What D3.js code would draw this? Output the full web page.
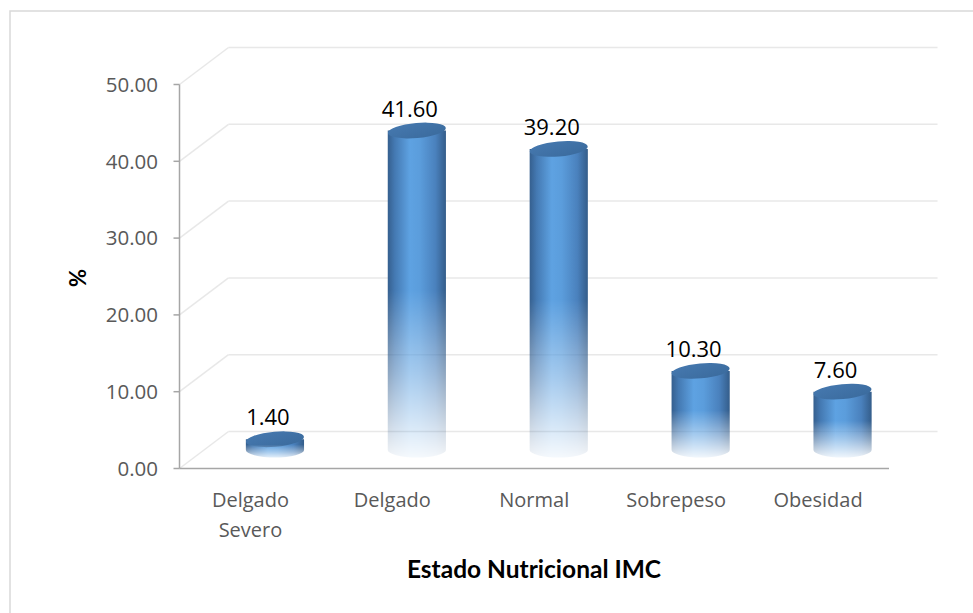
<!DOCTYPE html>
<html>
<head>
<meta charset="utf-8">
<script src="https://cdn.jsdelivr.net/npm/d3@7"></script>
<style>
  html, body { margin: 0; padding: 0; background: #fff; }
  svg { display: block; }
</style>
</head>
<body>
<script>
// ---- data ----
const categories = [["Delgado", "Severo"], ["Delgado"], ["Normal"], ["Sobrepeso"], ["Obesidad"]];
const values = [1.40, 41.60, 39.20, 10.30, 7.60];
const yTicks = [0, 10, 20, 30, 40, 50];
const xTitle = "Estado Nutricional IMC";
const yTitle = "%";

const W = 973, H = 613;
const svg = d3.select("body").append("svg").attr("width", W).attr("height", H);

// frame (only top & left visible)
svg.append("path").attr("d", `M10,613 L10,11 L973,11`)
  .attr("fill", "none").attr("stroke", "#d9d9d9").attr("stroke-width", 1.5);

// geometry
const front = { x0: 179.5, x1: 889, y0: 468.5, y1: 84.5 };
const depth = { dx: 49, dy: -37 };

const x = d3.scaleBand().domain(d3.range(categories.length)).range([front.x0, front.x1]).padding(0);
const y = d3.scaleLinear().domain([0, 50]).range([front.y0, front.y1]);

const defs = svg.append("defs");
// cylinder side gradient
const side = defs.append("linearGradient").attr("id", "side").attr("x1", 0).attr("x2", 1).attr("y1", 0).attr("y2", 0);
[[0, "#355f8e"], [0.12, "#4479b2"], [0.38, "#5ea2e2"], [0.55, "#5b9ddc"], [0.82, "#4a81bd"], [1, "#345d8a"]]
  .forEach(([o, c]) => side.append("stop").attr("offset", o).attr("stop-color", c));
const topG = defs.append("linearGradient").attr("id", "topg").attr("x1", 0).attr("x2", 1).attr("y1", 0).attr("y2", 1);
[[0, "#4679b0"], [1, "#3a6a9c"]].forEach(([o, c]) => topG.append("stop").attr("offset", o).attr("stop-color", c));
// fade mask gradient
const fade = defs.append("linearGradient").attr("id", "fade").attr("x1", 0).attr("x2", 0).attr("y1", 0).attr("y2", 1);
[[0, 1], [0.5, 1], [0.75, 0.55], [1, 0.05]].forEach(([o, a]) =>
  fade.append("stop").attr("offset", o).attr("stop-color", "#fff").attr("stop-opacity", a));

// back wall gridlines
const grid = svg.append("g");
yTicks.forEach(t => {
  const fy = y(t), by = y(t) + depth.dy;
  grid.append("line").attr("x1", front.x0 + depth.dx).attr("x2", 937.5).attr("y1", by).attr("y2", by)
    .attr("stroke", "#e8e8e8").attr("stroke-width", 1.5);
  grid.append("line").attr("x1", front.x0).attr("y1", fy).attr("x2", front.x0 + depth.dx).attr("y2", by)
    .attr("stroke", "#e8e8e8").attr("stroke-width", 1.5);
});

// axes
const axisColor = "#a6a6a6";
svg.append("line").attr("x1", front.x0).attr("x2", front.x0).attr("y1", y(50)).attr("y2", y(0))
  .attr("stroke", axisColor).attr("stroke-width", 1.5);
svg.append("line").attr("x1", front.x0).attr("x2", front.x1).attr("y1", y(0)).attr("y2", y(0))
  .attr("stroke", axisColor).attr("stroke-width", 1.5);
yTicks.forEach(t => {
  svg.append("line").attr("x1", front.x0 - 6).attr("x2", front.x0).attr("y1", y(t)).attr("y2", y(t))
    .attr("stroke", axisColor).attr("stroke-width", 1.5);
  svg.append("text").attr("x", 158).attr("y", y(t)).attr("dy", "0.36em").attr("text-anchor", "end")
    .attr("font-family", "Open Sans").attr("font-size", 20.5).attr("fill", "#595959")
    .text(d3.format(".2f")(t));
});

// cylinders
const bars = svg.append("g");
const rx = x.bandwidth() * 0.205, ry = 7.5;
values.forEach((v, i) => {
  const cx = x(i) + x.bandwidth() / 2 + depth.dx / 2;
  const yb = y(0) + depth.dy / 2;
  const yt = y(v) + depth.dy / 2;
  const maskId = "m" + i;
  const m = defs.append("mask").attr("id", maskId).attr("maskContentUnits", "userSpaceOnUse");
  m.append("rect").attr("x", cx - rx - 2).attr("y", yt - ry - 2).attr("width", 2 * rx + 4)
    .attr("height", yb - yt + 2 * ry + 4).attr("fill", "url(#fade)");
  const g = bars.append("g").attr("mask", `url(#${maskId})`);
  g.append("path")
    .attr("d", `M${cx - rx},${yt} L${cx - rx},${yb} A${rx},${ry} 0 0 0 ${cx + rx},${yb} L${cx + rx},${yt} Z`)
    .attr("fill", "url(#side)");
  g.append("ellipse").attr("cx", cx).attr("cy", yt).attr("rx", rx).attr("ry", ry)
    .attr("transform", `rotate(-5 ${cx} ${yt})`).attr("fill", "url(#topg)");
  svg.append("text").attr("x", cx - 7).attr("y", yt - 14).attr("text-anchor", "middle")
    .attr("font-family", "Open Sans").attr("font-size", 22).attr("fill", "#000")
    .text(d3.format(".2f")(v));
});

// category labels
categories.forEach((lines, i) => {
  const t = svg.append("text").attr("text-anchor", "middle")
    .attr("font-family", "Open Sans").attr("font-size", 20).attr("fill", "#595959");
  lines.forEach((ln, k) => t.append("tspan").attr("x", x(i) + x.bandwidth() / 2).attr("y", 507 + k * 30).text(ln));
});

// titles
svg.append("text").attr("x", 534).attr("y", 578).attr("text-anchor", "middle")
  .attr("font-family", "Lato").attr("font-weight", "bold").attr("font-size", 24.5).attr("fill", "#000")
  .text(xTitle);
svg.append("text").attr("transform", "translate(78,278) rotate(-90)").attr("dy", "0.36em")
  .attr("text-anchor", "middle").attr("font-family", "Lato").attr("font-weight", "bold")
  .attr("font-size", 22).attr("fill", "#000").text(yTitle);
</script>
</body>
</html>
